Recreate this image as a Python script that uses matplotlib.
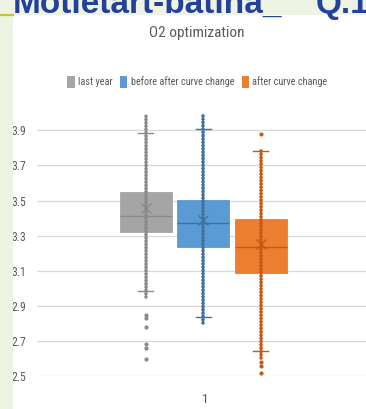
import matplotlib
matplotlib.use("Agg")
import matplotlib.pyplot as plt
from matplotlib import font_manager
from matplotlib.patches import Rectangle
from matplotlib.lines import Line2D

# ---- data -------------------------------------------------------------
series = ["last year", "before after curve change", "after curve change"]
q1 = [3.32, 3.237, 3.089]
median = [3.413, 3.373, 3.233]
q3 = [3.55, 3.503, 3.393]
mean = [3.46, 3.39, 3.25]
whisker_low = [2.984, 2.834, 2.644]
whisker_high = [3.886, 3.907, 3.784]
# dense runs of individual points (lowest / highest of each run)
points_low = [2.95, 2.80, 2.60]
points_high = [4.00, 4.00, 3.80]
# isolated points away from the dense runs
outliers = [
    [2.85, 2.83, 2.78, 2.68, 2.66, 2.595],
    [],
    [3.88, 2.58, 2.557, 2.515],
]
category = "1"
y_ticks = [2.5, 2.7, 2.9, 3.1, 3.3, 3.5, 3.7, 3.9]

# ---- fonts ------------------------------------------------------------
names = sorted({f.name for f in font_manager.fontManager.ttflist})
preferred = ["Liberation Sans Narrow", "Roboto Condensed", "Open Sans Condensed",
             "Noto Sans Condensed", "DejaVu Sans Condensed"]
condensed = [n for n in preferred if n in names]
if not condensed:
    condensed = [n for n in names if "Narrow" in n or "Condensed" in n][:1]
narrow = condensed[:1] + ["DejaVu Sans"]

def nfont(size):
    return font_manager.FontProperties(family=narrow, size=size, stretch="condensed")

# ---- styles -----------------------------------------------------------
fill = ["#A5A5A5", "#5B9BD5", "#ED7D31"]
dark = ["#8A8A8A", "#41719C", "#C55A11"]
text_grey = "#595959"
offsets = [-0.1765, -0.005, 0.166]
box_w = 0.155

W, H = 366, 409
fig = plt.figure(figsize=(W / 100, H / 100), dpi=100, facecolor="white")

# slide background around the chart panel
bg = "#EDF4E3"
fig.patches.append(Rectangle((0, 0), 12.5 / W, 1, transform=fig.transFigure,
                             facecolor=bg, edgecolor="none", zorder=0))
fig.patches.append(Rectangle((0, 1 - 15 / H), 1, 15 / H, transform=fig.transFigure,
                             facecolor=bg, edgecolor="none", zorder=0))
fig.lines.append(Line2D([0, 12.5 / W], [1 - 14.5 / H] * 2, transform=fig.transFigure,
                        color="#C3C62B", linewidth=1.6))
fig.text(13 / W, 1 - 12.5 / H, "Motietart-batina_", color="#23409A", fontsize=24,
         fontweight="bold", family=["Liberation Sans", "DejaVu Sans"], va="baseline")
fig.text(316 / W, 1 - 12.5 / H, "Q.1", color="#23409A", fontsize=24,
         fontweight="bold", family=["Liberation Sans", "DejaVu Sans"], va="baseline")

# plot area
y_lo, y_hi = 2.5, 4.02
px_per_unit = 175.5
top_px = 376 - (y_hi - y_lo) * px_per_unit
ax = fig.add_axes([37 / W, (H - 376) / H, (373 - 37) / W, (376 - top_px) / H])
ax.set_facecolor("none")
ax.set_xlim(0.5, 1.5)
ax.set_ylim(y_lo, y_hi)

stats = []
for i, name in enumerate(series):
    stats.append(dict(label=name, q1=q1[i], med=median[i], q3=q3[i], mean=mean[i],
                      whislo=whisker_low[i], whishi=whisker_high[i], fliers=[]))

positions = [1 + o for o in offsets]
for i in range(len(series)):
    ax.bxp([stats[i]], positions=[positions[i]], widths=box_w, patch_artist=True,
           showmeans=True, showfliers=False, capwidths=0.045,
           boxprops=dict(facecolor=fill[i], edgecolor=fill[i], linewidth=0.6),
           medianprops=dict(color=dark[i], linewidth=1.0),
           whiskerprops=dict(color=dark[i], linewidth=1.0),
           capprops=dict(color=dark[i], linewidth=1.0),
           meanprops=dict(marker="x", markeredgecolor=dark[i], markersize=7,
                          markeredgewidth=1.0),
           manage_ticks=False)
    # column of individual points running through the box
    ax.vlines(positions[i], points_low[i], points_high[i], colors=dark[i],
              linewidth=2.6, linestyles=(0, (0.01, 0.9)), capstyle="round", zorder=4)
    if outliers[i]:
        ax.plot([positions[i]] * len(outliers[i]), outliers[i], "o", color=dark[i],
                markersize=3.0, markeredgewidth=0, zorder=4)

ax.set_yticks(y_ticks)
ax.set_yticklabels([f"{v:.1f}" for v in y_ticks], fontproperties=nfont(8.5),
                   color=text_grey)
ax.set_xticks([1])
ax.set_xticklabels([category], fontproperties=nfont(9.5), color=text_grey)
ax.tick_params(length=0, pad=8)
ax.tick_params(axis="x", pad=12)
ax.grid(axis="y", color="#D9D9D9", linewidth=0.9)
ax.set_axisbelow(True)
for s in ax.spines.values():
    s.set_visible(False)

fig.text(197 / W, 1 - 33 / H, "O2 optimization", ha="center", va="center",
         fontproperties=nfont(11), color=text_grey)

handles = [Rectangle((0, 0), 1, 1, facecolor=fill[i], edgecolor="none")
           for i in range(len(series))]
fig.legend(handles, series, loc="center", bbox_to_anchor=(197.5 / W, 1 - 82 / H),
           ncol=3, frameon=False, handlelength=0.7, handleheight=1.4,
           handletextpad=0.35, columnspacing=0.7,
           prop=nfont(7.4), labelcolor=text_grey)

fig.savefig("out.png", dpi=100, facecolor="white")
